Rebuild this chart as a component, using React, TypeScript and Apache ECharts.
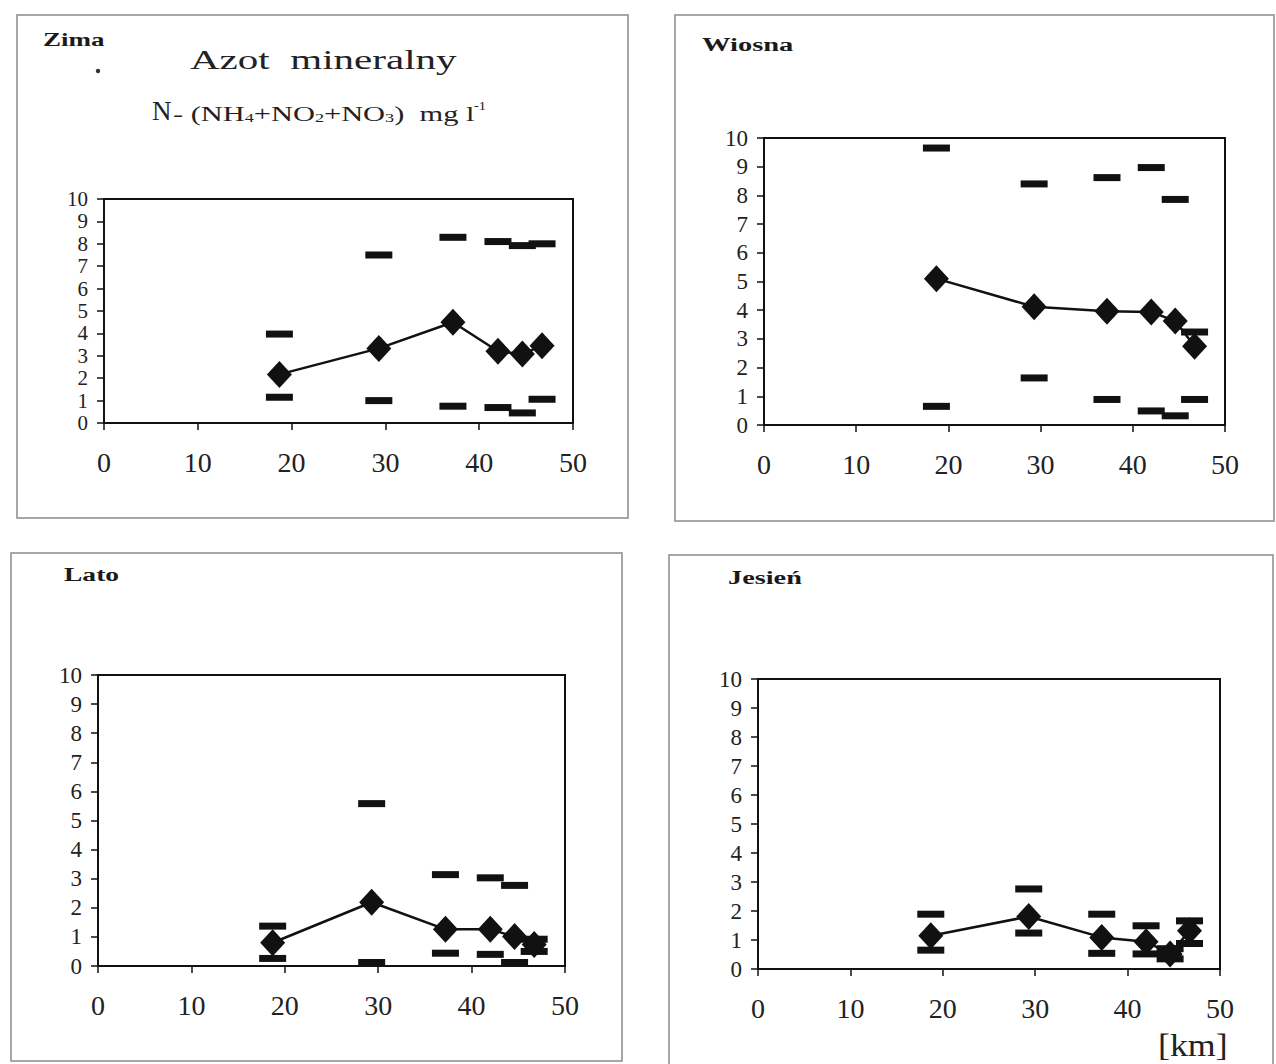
import React, { useEffect, useRef } from 'react';
import * as echarts from 'echarts';

// ---- data ----
const seasonNames = ['Zima', 'Wiosna', 'Lato', 'Jesień'];
const stationsKm = [18.7, 29.3, 37.2, 42.0, 44.6, 46.7];

const zimaMean = [2.17, 3.33, 4.5, 3.2, 3.08, 3.45];
const zimaMax = [3.97, 7.5, 8.29, 8.1, 7.92, 8.0];
const zimaMin = [1.15, 1.0, 0.75, 0.69, 0.45, 1.06];

const wiosnaMean = [5.1, 4.12, 3.96, 3.94, 3.62, 2.74];
const wiosnaMax = [9.65, 8.4, 8.62, 8.97, 7.86, 3.24];
const wiosnaMin = [0.65, 1.64, 0.89, 0.49, 0.32, 0.89];

const latoMean = [0.8, 2.19, 1.26, 1.26, 1.01, 0.74];
const latoMax = [1.37, 5.58, 3.14, 3.03, 2.77, 0.92];
const latoMin = [0.26, 0.12, 0.44, 0.4, 0.12, 0.5];

const jesienMean = [1.15, 1.81, 1.09, 0.94, 0.52, 1.32];
const jesienMax = [1.89, 2.76, 1.89, 1.49, 0.7, 1.66];
const jesienMin = [0.65, 1.24, 0.54, 0.52, 0.35, 0.88];

const yAxisMin = 0;
const yAxisMax = 10;
const yAxisStep = 1;
const xAxisMin = 0;
const xAxisMax = 50;
const xAxisStep = 10;

const titleMain = 'Azot  mineralny';
const unitLabel = '[km]';

const FONT = "'Liberation Serif', serif";
const INK = '#111111';
const TEXT = '#222222';

const panels = [
  { name: seasonNames[0], mean: zimaMean, max: zimaMax, min: zimaMin,
    grid: { left: 104, top: 199, width: 469, height: 224 }, ySize: 21,
    box: { x: 17, y: 15, width: 611, height: 503 },
    label: { x: 43, y: 40, size: 18, sx: 1.5 } },
  { name: seasonNames[1], mean: wiosnaMean, max: wiosnaMax, min: wiosnaMin,
    grid: { left: 764, top: 138, width: 461, height: 287 }, ySize: 23,
    box: { x: 675, y: 15, width: 599, height: 506 },
    label: { x: 702, y: 44, size: 19, sx: 1.5 } },
  { name: seasonNames[2], mean: latoMean, max: latoMax, min: latoMin,
    grid: { left: 98, top: 675, width: 467, height: 291 }, ySize: 23,
    box: { x: 11, y: 553, width: 611, height: 508 },
    label: { x: 64, y: 575, size: 19, sx: 1.45 } },
  { name: seasonNames[3], mean: jesienMean, max: jesienMax, min: jesienMin,
    grid: { left: 758, top: 679, width: 462, height: 290 }, ySize: 23,
    box: { x: 669, y: 555, width: 604, height: 520 },
    label: { x: 728, y: 578, size: 19, sx: 1.49 } },
];

function buildOption() {
  const grid: any[] = [];
  const xAxis: any[] = [];
  const yAxis: any[] = [];
  const series: any[] = [];
  const graphic: any[] = [];

  panels.forEach((p, i) => {
    grid.push({ ...p.grid, show: true, borderColor: INK, borderWidth: 2, backgroundColor: 'transparent' });
    xAxis.push({
      type: 'value', gridIndex: i, min: xAxisMin, max: xAxisMax, interval: xAxisStep,
      axisLine: { show: true, onZero: false, lineStyle: { color: INK, width: 2 } },
      axisTick: { show: true, inside: false, length: 7, lineStyle: { color: INK, width: 1.5 } },
      axisLabel: { fontFamily: FONT, fontSize: 28, color: TEXT, margin: 25, showMinLabel: true, showMaxLabel: true },
      splitLine: { show: false },
    });
    yAxis.push({
      type: 'value', gridIndex: i, min: yAxisMin, max: yAxisMax, interval: yAxisStep,
      axisLine: { show: true, onZero: false, lineStyle: { color: INK, width: 2 } },
      axisTick: { show: true, inside: false, length: 7, lineStyle: { color: INK, width: 1.5 } },
      axisLabel: { fontFamily: FONT, fontSize: p.ySize, lineHeight: p.ySize - 2, color: TEXT, margin: 16,
        showMinLabel: true, showMaxLabel: true, hideOverlap: false },
      splitLine: { show: false },
    });
    const pts = (arr: number[]) => stationsKm.map((x, j) => [x, arr[j]]);
    series.push({
      type: 'scatter', name: p.name + ' max', xAxisIndex: i, yAxisIndex: i,
      data: pts(p.max), symbol: 'rect', symbolSize: [27, 7], itemStyle: { color: INK, opacity: 1 }, z: 2,
    });
    series.push({
      type: 'scatter', name: p.name + ' min', xAxisIndex: i, yAxisIndex: i,
      data: pts(p.min), symbol: 'rect', symbolSize: [27, 7], itemStyle: { color: INK, opacity: 1 }, z: 2,
    });
    series.push({
      type: 'line', name: p.name + ' średnia', xAxisIndex: i, yAxisIndex: i,
      data: pts(p.mean), symbol: 'diamond', symbolSize: [25, 27], showAllSymbol: true,
      lineStyle: { color: INK, width: 2.5 }, itemStyle: { color: INK, opacity: 1 }, z: 3,
    });
    graphic.push({
      type: 'rect', shape: { ...p.box }, style: { fill: 'none', stroke: '#8a8a8a', lineWidth: 1.5 }, silent: true,
    });
    graphic.push({
      type: 'text', x: p.label.x, y: p.label.y, scaleX: p.label.sx, scaleY: 1,
      style: { text: p.name, fontFamily: FONT, fontWeight: 'bold', fontSize: p.label.size, fill: '#1a1a1a',
        textAlign: 'left', textVerticalAlign: 'middle', verticalAlign: 'middle' },
    });
  });

  graphic.push({
    type: 'text', x: 190, y: 60, scaleX: 1.52,
    style: { text: titleMain, fontFamily: FONT, fontSize: 27, fill: TEXT,
      textAlign: 'left', textVerticalAlign: 'middle', verticalAlign: 'middle' },
  });
  graphic.push({
    type: 'text', x: 152, y: 111,
    style: { text: 'N', fontFamily: FONT, fontSize: 27, fill: TEXT,
      textAlign: 'left', textVerticalAlign: 'middle', verticalAlign: 'middle' },
  });
  graphic.push({
    type: 'text', x: 173, y: 124, scaleX: 1.52,
    style: {
      text: '{m|- (NH}{s|4}{m|+NO}{s|2}{m|+NO}{s|3}{m|)  mg l}',
      fontFamily: FONT, fill: TEXT, textAlign: 'left', textVerticalAlign: 'bottom', verticalAlign: 'bottom',
      rich: {
        m: { fontFamily: FONT, fontSize: 20, fill: TEXT, color: TEXT, verticalAlign: 'bottom' },
        s: { fontFamily: FONT, fontSize: 12, fill: TEXT, color: TEXT, verticalAlign: 'bottom', lineHeight: 8 },
      },
    },
  });
  graphic.push({
    type: 'text', x: 474, y: 106, scaleX: 1.2,
    style: { text: '-1', fontFamily: FONT, fontSize: 12, fill: TEXT,
      textAlign: 'left', textVerticalAlign: 'middle', verticalAlign: 'middle' },
  });
  graphic.push({ type: 'circle', shape: { cx: 98, cy: 71, r: 2.2 }, style: { fill: '#333' } });
  graphic.push({
    type: 'text', x: 1158, y: 1045, scaleX: 1.12,
    style: { text: unitLabel, fontFamily: FONT, fontSize: 32, fill: TEXT,
      textAlign: 'left', textVerticalAlign: 'middle', verticalAlign: 'middle' },
  });

  return {
    animation: false,
    backgroundColor: '#ffffff',
    textStyle: { fontFamily: FONT },
    grid, xAxis, yAxis, series, graphic,
  };
}

export default function App() {
  const ref = useRef<HTMLDivElement>(null);
  useEffect(() => {
    if (!ref.current) return;
    const chart = echarts.init(ref.current, undefined, { renderer: 'svg' });
    chart.setOption(buildOption() as any);
    return () => chart.dispose();
  }, []);
  return (
    <div
      ref={ref}
      style={{ position: 'absolute', left: 0, top: 0, width: 1276, height: 1064, background: '#fff' }}
    />
  );
}
